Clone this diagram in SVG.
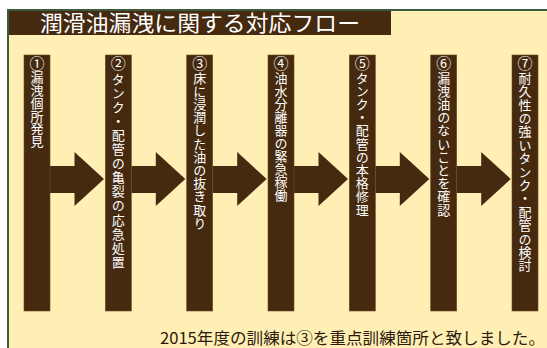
<svg xmlns="http://www.w3.org/2000/svg" width="547" height="348" viewBox="0 0 547 348">
<style>
.frame{fill:#FFEFB5;stroke:#3d5a3d;stroke-width:2}
.title-bar{fill:#462A0F}
.title{font-family:"Noto Sans CJK JP","Noto Sans",sans-serif;font-size:22px;fill:#ffffff}
.bar{fill:#462A0F;stroke:#6b4a22;stroke-width:0.6}
.vt{font-family:"Noto Sans CJK JP","Noto Sans",sans-serif;font-size:13px;fill:#ffffff;writing-mode:vertical-rl;text-orientation:upright}
.num{font-size:15px}
.arrow{fill:#462A0F}
.note{font-family:"Noto Sans CJK JP","Noto Sans",sans-serif;font-size:16px;fill:#2b1a0c}
</style>
<rect x="0" y="0" width="547" height="348" fill="#ffffff"/>
<rect class="frame" x="8" y="10" width="560" height="360"/>
<g id="title">
<rect class="title-bar" x="9" y="11" width="382" height="24"/>
<text class="title" x="40" y="31" textLength="320" lengthAdjust="spacingAndGlyphs">潤滑油漏洩に関する対応フロー</text>
</g>
<g id="connectors">
<polygon class="arrow" points="50,166 74.5,166 74.5,152 104,179 74.5,206 74.5,193 50,193"/>
<polygon class="arrow" points="131.3,166 155.8,166 155.8,152 185.3,179 155.8,206 155.8,193 131.3,193"/>
<polygon class="arrow" points="212.7,166 237.2,166 237.2,152 266.7,179 237.2,206 237.2,193 212.7,193"/>
<polygon class="arrow" points="294,166 318.5,166 318.5,152 348,179 318.5,206 318.5,193 294,193"/>
<polygon class="arrow" points="375.3,166 399.8,166 399.8,152 429.3,179 399.8,206 399.8,193 375.3,193"/>
<polygon class="arrow" points="456.7,166 481.2,166 481.2,152 510.7,179 481.2,206 481.2,193 456.7,193"/>
</g>
<g id="step1">
<rect class="bar" x="24" y="55" width="26" height="256"/>
<text class="vt" x="37" y="56" style="letter-spacing:-0.2px"><tspan class="num">①</tspan>漏洩個所発見</text>
</g>
<g id="step2">
<rect class="bar" x="105.3" y="55" width="26" height="256"/>
<text class="vt" x="118.3" y="56" style="letter-spacing:1.1px"><tspan class="num">②</tspan>タンク・配管の亀裂の応急処置</text>
</g>
<g id="step3">
<rect class="bar" x="186.7" y="55" width="26" height="256"/>
<text class="vt" x="199.7" y="56" style="letter-spacing:0.2px"><tspan class="num">③</tspan>床に浸潤した油の抜き取り</text>
</g>
<g id="step4">
<rect class="bar" x="268" y="55" width="26" height="256"/>
<text class="vt" x="281" y="56" style="letter-spacing:0.1px"><tspan class="num">④</tspan>油水分離器の緊急稼働</text>
</g>
<g id="step5">
<rect class="bar" x="349.3" y="55" width="26" height="256"/>
<text class="vt" x="362.3" y="56" style="letter-spacing:0.2px"><tspan class="num">⑤</tspan>タンク・配管の本格修理</text>
</g>
<g id="step6">
<rect class="bar" x="430.7" y="55" width="26" height="256"/>
<text class="vt" x="443.7" y="56" style="letter-spacing:0.2px"><tspan class="num">⑥</tspan>漏洩油のないことを確認</text>
</g>
<g id="step7">
<rect class="bar" x="512" y="55" width="26" height="256"/>
<text class="vt" x="525" y="56" style="letter-spacing:0.4px"><tspan class="num">⑦</tspan>耐久性の強いタンク・配管の検討</text>
</g>
<text class="note" x="160" y="344" textLength="385" lengthAdjust="spacingAndGlyphs">2015年度の訓練は③を重点訓練箇所と致しました。</text>
</svg>
